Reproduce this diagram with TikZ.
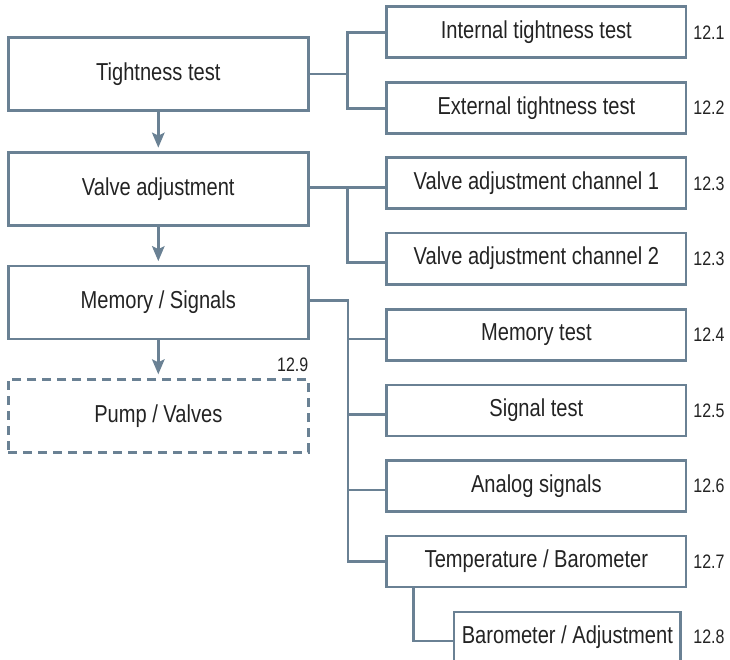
\documentclass[tikz,border=0pt]{standalone}
\usepackage{fontspec}
\setmainfont[FakeStretch=0.82]{Liberation Sans}
\usetikzlibrary{arrows.meta}
\definecolor{lineblue}{RGB}{106,129,148}
\definecolor{txt}{RGB}{35,35,35}
\tikzset{
  box/.style={draw=lineblue, line width=2.7pt, rectangle, inner sep=0pt,
    text=txt, font=\fontsize{24.5}{28}\selectfont},
  leftbox/.style={box, minimum width=300pt, minimum height=73pt},
  rightbox/.style={box, minimum width=299.3pt, minimum height=51pt},
  dashbox/.style={leftbox, dash pattern=on 9pt off 6pt},
  num/.style={inner sep=0pt, text=txt, font=\fontsize{19.5}{22}\selectfont},
  conn/.style={draw=lineblue, line width=2.7pt, line join=miter},
  arr/.style={conn, -{Stealth[length=15pt,width=12.5pt,inset=3pt]}, shorten >=3.5pt}
}
\begin{document}
\begin{tikzpicture}[x=1pt,y=-1pt]
\useasboundingbox (0,0) rectangle (730,660);
% left column
\node[leftbox] (tight) at (158.3,73.85) {Tightness test};
\node[leftbox] (valve) at (158.3,189) {Valve adjustment};
\node[leftbox] (memory) at (158.3,302.5) {Memory / Signals};
\node[dashbox] (pump) at (158.3,415.7) {Pump / Valves};
\node[num, anchor=base east] (n129) at (308.5,371.7) {12.9};
% right column
\node[rightbox] (internal) at (536.35,32.2) {Internal tightness test};
\node[rightbox] (external) at (536.35,108) {External tightness test};
\node[rightbox] (ch1) at (536.35,183.35) {Valve adjustment channel 1};
\node[rightbox] (ch2) at (536.35,258.65) {Valve adjustment channel 2};
\node[rightbox] (memtest) at (536.35,334.65) {Memory test};
\node[rightbox] (signal) at (536.35,410.5) {Signal test};
\node[rightbox] (analog) at (536.35,486.2) {Analog signals};
\node[rightbox] (temp) at (536.35,561.35) {Temperature / Barometer};
\node[box, minimum width=226.7pt, minimum height=51pt] (baro) at (567.35,637.5) {Barometer / Adjustment};
% numbers
\node[num] (n121) at (709,32.2) {12.1};
\node[num] (n122) at (709,108) {12.2};
\node[num] (n123a) at (709,183.35) {12.3};
\node[num] (n123b) at (709,258.65) {12.3};
\node[num] (n124) at (709,334.65) {12.4};
\node[num] (n125) at (709,410.5) {12.5};
\node[num] (n126) at (709,486.2) {12.6};
\node[num] (n127) at (709,561.35) {12.7};
\node[num] (n128) at (709,637) {12.8};
% arrows
\draw[arr] (tight.south) -- (valve.north);
\draw[arr] (valve.south) -- (memory.north);
\draw[arr] (memory.south) -- (pump.north);
% tightness branches
\coordinate (t0) at (347.3,74);
\coordinate (t1) at (347.3,32.3);
\coordinate (t2) at (347.3,108.3);
\draw[conn] (tight.east |- t0) -- (t0);
\draw[conn] (internal.west |- t1) -- (t1) -- (t2) -- (external.west |- t2);
% valve branches
\coordinate (v1) at (347.3,187.7);
\coordinate (v2) at (347.3,262.3);
\draw[conn] (valve.east |- v1) -- (ch1.west |- v1);
\draw[conn] (v1) -- (v2) -- (ch2.west |- v2);
% memory branches
\coordinate (m0) at (348,300.7);
\coordinate (mb1) at (348,339);
\coordinate (mb2) at (348,414.3);
\coordinate (mb3) at (348,490);
\coordinate (mb4) at (348,561.7);
\draw[conn] (memory.east |- m0) -- (m0) -- (mb4) -- (temp.west |- mb4);
\draw[conn] (mb1) -- (memtest.west |- mb1);
\draw[conn] (mb2) -- (signal.west |- mb2);
\draw[conn] (mb3) -- (analog.west |- mb3);
% temperature -> barometer
\coordinate (b1) at (413.3,641);
\draw[conn] (temp.south -| b1) -- (b1) -- (baro.west |- b1);
\end{tikzpicture}
\end{document}
